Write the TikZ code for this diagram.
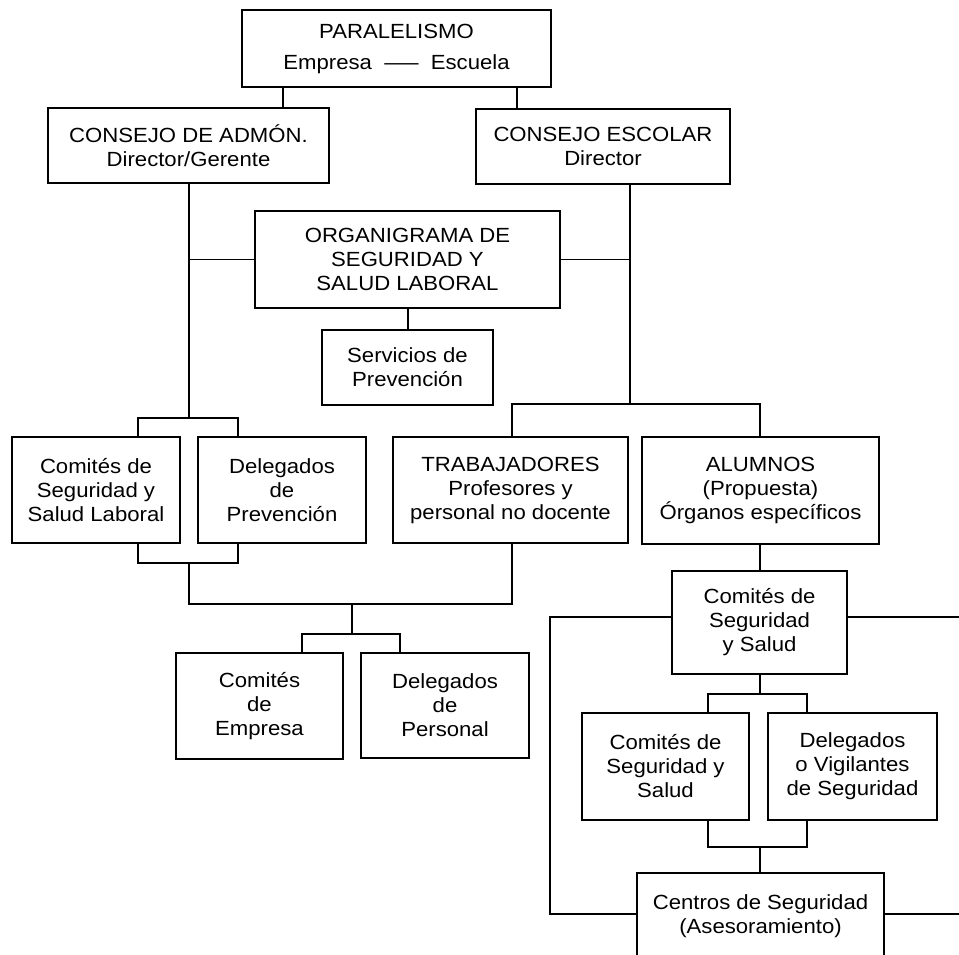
\documentclass[tikz,border=0pt]{standalone}
\usepackage{fontspec}
\usepackage{graphicx}
\setmainfont{Liberation Sans}[FakeStretch=1.08]
\begin{document}
\begin{tikzpicture}[x=1pt,y=-1pt,
  box/.style={draw, line width=1.1pt, inner sep=0pt, align=center,
    font=\fontsize{20.5}{24}\selectfont},
  conn/.style={line width=1.5pt},
]
\useasboundingbox (0,0) rectangle (959,954);
% boxes
\node[box, minimum width=309, minimum height=77] (par) at (396.5,48.5)
  {PARALELISMO\\[7pt]Empresa\hspace{0.6em}\scalebox{1.55}[1]{—}\hspace{0.6em}Escuela};
\node[box, minimum width=281, minimum height=75] (adm) at (188.5,145.5)
  {CONSEJO DE ADMÓN.\\Director/Gerente};
\node[box, minimum width=254, minimum height=75] (esc) at (603,146.5)
  {CONSEJO ESCOLAR\\Director};
\node[box, minimum width=305, minimum height=97] (org) at (407.5,259.5)
  {ORGANIGRAMA DE\\SEGURIDAD Y\\SALUD LABORAL};
\node[box, minimum width=171, minimum height=75] (serv) at (407.5,367.5)
  {Servicios de\\Prevención};
\node[box, minimum width=168, minimum height=106] (csl) at (96,490)
  {Comités de\\Seguridad y\\Salud Laboral};
\node[box, minimum width=168, minimum height=106] (dp) at (282,490)
  {Delegados\\de\\Prevención};
\node[box, minimum width=235, minimum height=106] (trab) at (510.5,490)
  {TRABAJADORES\\Profesores y\\personal no docente};
\node[box, minimum width=237, minimum height=107] (alu) at (760.5,490.5)
  {ALUMNOS\\(Propuesta)\\Órganos específicos};
\node[box, minimum width=175, minimum height=103] (css) at (759.5,622.5)
  {Comités de\\Seguridad\\y Salud};
\node[box, minimum width=167, minimum height=106] (ce) at (259.5,706)
  {Comités\\de\\Empresa};
\node[box, minimum width=168, minimum height=105] (dper) at (445,705.5)
  {Delegados\\de\\Personal};
\node[box, minimum width=167, minimum height=107] (cs2) at (665.5,766.5)
  {Comités de\\Seguridad y\\Salud};
\node[box, minimum width=169, minimum height=107] (dv) at (852.5,766.5)
  {Delegados\\o Vigilantes\\de Seguridad};
\node[box, minimum width=247, minimum height=87] (cen) at (760.5,916.5)
  {Centros de Seguridad\\(Asesoramiento)};
% junction coordinates
\coordinate (xpa) at (283,0);
\coordinate (xpe) at (517,0);
\coordinate (lt) at (189,418);
\coordinate (rt) at (630,404);
\coordinate (xos) at (408,0);
\coordinate (lbl) at (138,418);
\coordinate (lbr) at (238,418);
\coordinate (bbl) at (138,563);
\coordinate (bbr) at (238,563);
\coordinate (bbm) at (189,563);
\coordinate (tj) at (189,604);
\coordinate (tr) at (512,604);
\coordinate (cj) at (352,604);
\coordinate (cjb) at (352,634);
\coordinate (cjl) at (302,634);
\coordinate (cjr) at (400,634);
\coordinate (rbl) at (512,404);
\coordinate (rbr) at (760,404);
\coordinate (sl) at (550,617);
\coordinate (slb) at (550,914);
\coordinate (sre) at (962,617);
\coordinate (srb) at (962,914);
\coordinate (ab) at (760,694);
\coordinate (abl) at (708,694);
\coordinate (abr) at (807,694);
\coordinate (dbl) at (708,847);
\coordinate (dbr) at (807,847);
\coordinate (dbm) at (760,847);
% connectors
\draw[conn] (xpa |- par.south) -- (xpa |- adm.north);
\draw[conn] (xpe |- par.south) -- (xpe |- esc.north);
\draw[conn] (lt |- adm.south) -- (lt);
\draw[conn] (org.west) -- (org.west -| lt);
\draw[conn] (rt |- esc.south) -- (rt);
\draw[conn] (org.east) -- (org.east -| rt);
\draw[conn] (xos |- org.south) -- (xos |- serv.north);
\draw[conn] (lbl |- csl.north) -- (lbl) -- (lbr) -- (lbr |- dp.north);
\draw[conn] (bbl |- csl.south) -- (bbl) -- (bbr) -- (bbr |- dp.south);
\draw[conn] (bbm) -- (tj) -- (tr) -- (tr |- trab.south);
\draw[conn] (cj) -- (cjb);
\draw[conn] (cjl |- ce.north) -- (cjl) -- (cjr) -- (cjr |- dper.north);
\draw[conn] (rbl |- trab.north) -- (rbl) -- (rbr) -- (rbr |- alu.north);
\draw[conn] (rbr |- alu.south) -- (rbr |- css.north);
\draw[conn] (sl -| css.west) -- (sl) -- (slb) -- (slb -| cen.west);
\draw[conn] (sl -| css.east) -- (sre);
\draw[conn] (slb -| cen.east) -- (srb);
\draw[conn] (ab |- css.south) -- (ab);
\draw[conn] (abl |- cs2.north) -- (abl) -- (abr) -- (abr |- dv.north);
\draw[conn] (dbl |- cs2.south) -- (dbl) -- (dbr) -- (dbr |- dv.south);
\draw[conn] (dbm) -- (dbm |- cen.north);
\end{tikzpicture}
\end{document}
